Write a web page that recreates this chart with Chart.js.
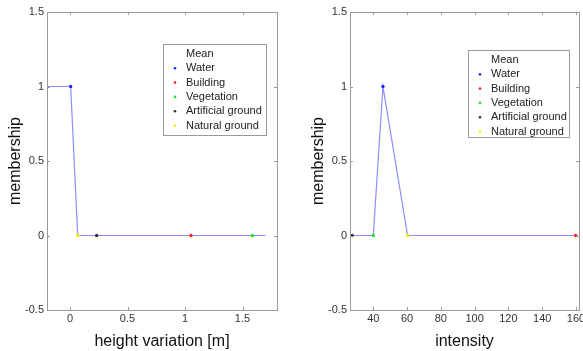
<!DOCTYPE html>
<html>
<head>
<meta charset="utf-8">
<script src="https://cdn.jsdelivr.net/npm/chart.js@4.4.0/dist/chart.umd.min.js"></script>
<style>
  html, body { margin: 0; padding: 0; background: #fff; overflow: hidden; }
  #wrap { position: relative; width: 583px; height: 351px; overflow: hidden; }
  .box { position: absolute; top: 0; height: 351px; }
  #leftBox { left: 0; width: 291px; }
  #rightBox { left: 291px; width: 300px; }
</style>
</head>
<body>
<div id="wrap">
  <div class="box" id="leftBox"><canvas id="leftChart"></canvas></div>
  <div class="box" id="rightBox"><canvas id="rightChart"></canvas></div>
</div>
<script>
// Classes shown in the legend
const classNames = ['Water', 'Building', 'Vegetation', 'Artificial ground', 'Natural ground'];
const classColors = ['#2020ff', '#ff2020', '#20e020', '#303030', '#f0f000'];

// Left plot: height variation [m]
const heightMeanX = [-0.2, 0.006, 0.067, 1.7];
const heightMeanY = [1, 1, 0, 0];
const heightClassX = [0.006, 1.052, 1.586, 0.232, 0.067];
const heightClassY = [1, 0, 0, 0, 0];
const heightTicks = [0, 0.5, 1, 1.5];

// Right plot: intensity
const intensityMeanX = [27.5, 40, 45.7, 60.3, 159.8];
const intensityMeanY = [0, 0, 1, 0, 0];
const intensityClassX = [45.7, 159.8, 40, 27.5, 60.3];
const intensityClassY = [1, 0, 0, 0, 0];
const intensityTicks = [40, 60, 80, 100, 120, 140, 160];

const membershipTicks = [-0.5, 0, 0.5, 1, 1.5];

const FONT = 'Arial, "Liberation Sans", sans-serif';

// frame + inward ticks on all four sides, matlab style
const framePlugin = {
    id: 'frame',
    afterDatasetsDraw(chart) {
        const ctx = chart.ctx;
        const a = chart.chartArea;
        const xs = chart.scales.x, ys = chart.scales.y;
        ctx.save();
        ctx.strokeStyle = '#9a9a9a';
        ctx.lineWidth = 1;
        ctx.strokeRect(Math.round(a.left) + 0.5, Math.round(a.top) + 0.5,
            Math.round(a.right - a.left), Math.round(a.bottom - a.top));
        ctx.beginPath();
        xs.ticks.forEach(t => {
            const px = Math.round(xs.getPixelForValue(t.value)) + 0.5;
            ctx.moveTo(px, a.bottom); ctx.lineTo(px, a.bottom - 3);
            ctx.moveTo(px, a.top); ctx.lineTo(px, a.top + 3);
        });
        ys.ticks.forEach(t => {
            const py = Math.round(ys.getPixelForValue(t.value)) + 0.5;
            ctx.moveTo(a.left, py); ctx.lineTo(a.left + 3, py);
            ctx.moveTo(a.right, py); ctx.lineTo(a.right - 3, py);
        });
        ctx.stroke();
        ctx.restore();
    }
};

// legend box drawn inside the axes
const legendPlugin = {
    id: 'boxLegend',
    afterDraw(chart, args, opts) {
        const ctx = chart.ctx;
        const x = opts.x, y = opts.y, w = opts.w, h = opts.h;
        ctx.save();
        ctx.fillStyle = '#fff';
        ctx.fillRect(x, y, w, h);
        ctx.strokeStyle = '#9a9a9a';
        ctx.lineWidth = 1;
        ctx.strokeRect(x + 0.5, y + 0.5, w, h);
        ctx.font = '11px ' + FONT;
        ctx.textBaseline = 'middle';
        ctx.fillStyle = '#222';
        const rowH = 14.3;
        chart.data.datasets.forEach((ds, i) => {
            const ry = y + 10 + i * rowH;
            if (i > 0) {
                ctx.fillStyle = ds.backgroundColor;
                ctx.beginPath();
                ctx.arc(x + 12, ry, 1.3, 0, Math.PI * 2);
                ctx.fill();
            }
            ctx.fillStyle = '#222';
            ctx.fillText(ds.label, x + 23, ry);
        });
        ctx.restore();
    }
};

function buildChart(id, meanX, meanY, classX, classY, xMin, xMax, xTicks, xTitle, yWidth, yTitlePad, padRight, legendPos) {
    const datasets = [{
        label: 'Mean',
        data: meanX.map((v, i) => ({ x: v, y: meanY[i] })),
        showLine: true,
        borderColor: '#8c8cff',
        backgroundColor: '#8c8cff',
        borderWidth: 1.2,
        pointRadius: 0,
        order: 2
    }];
    classNames.forEach((name, i) => {
        datasets.push({
            label: name,
            data: [{ x: classX[i], y: classY[i] }],
            backgroundColor: classColors[i],
            borderColor: classColors[i],
            pointRadius: 1.7,
            pointBorderWidth: 0,
            order: 1
        });
    });

    return new Chart(document.getElementById(id), {
        type: 'scatter',
        data: { datasets: datasets },
        options: {
            responsive: true,
            maintainAspectRatio: false,
            animation: false,
            layout: { padding: { top: 12, right: padRight, left: 0, bottom: 0 } },
            plugins: {
                legend: { display: false },
                tooltip: { enabled: false },
                boxLegend: legendPos
            },
            scales: {
                x: {
                    type: 'linear',
                    min: xMin,
                    max: xMax,
                    afterBuildTicks: s => { s.ticks = xTicks.map(v => ({ value: v })); },
                    afterFit: s => { s.height = 41; },
                    grid: { display: false, drawTicks: false },
                    border: { display: false },
                    ticks: {
                        padding: 2,
                        maxRotation: 0,
                        color: '#333',
                        font: { family: FONT, size: 11 },
                        callback: v => String(v)
                    },
                    title: {
                        display: true,
                        text: xTitle,
                        color: '#111',
                        font: { family: FONT, size: 16 },
                        padding: { top: 4, bottom: 0 }
                    }
                },
                y: {
                    type: 'linear',
                    min: -0.5,
                    max: 1.5,
                    afterBuildTicks: s => { s.ticks = membershipTicks.map(v => ({ value: v })); },
                    afterFit: s => { s.width = yWidth; },
                    grid: { display: false, drawTicks: false },
                    border: { display: false },
                    ticks: {
                        padding: 3,
                        color: '#333',
                        font: { family: FONT, size: 11 },
                        callback: v => String(v)
                    },
                    title: {
                        display: true,
                        text: 'membership',
                        color: '#111',
                        font: { family: FONT, size: 16 },
                        padding: { top: yTitlePad, bottom: 0 }
                    }
                }
            }
        },
        plugins: [framePlugin, legendPlugin]
    });
}

buildChart('leftChart', heightMeanX, heightMeanY, heightClassX, heightClassY,
    -0.2, 1.8, heightTicks, 'height variation [m]', 47, 6, 14,
    { x: 163, y: 44, w: 103, h: 91 });

buildChart('rightChart', intensityMeanX, intensityMeanY, intensityClassX, intensityClassY,
    26.2, 161.8, intensityTicks, 'intensity', 59, 18, 12,
    { x: 177, y: 50, w: 101, h: 87 });
</script>
</body>
</html>
